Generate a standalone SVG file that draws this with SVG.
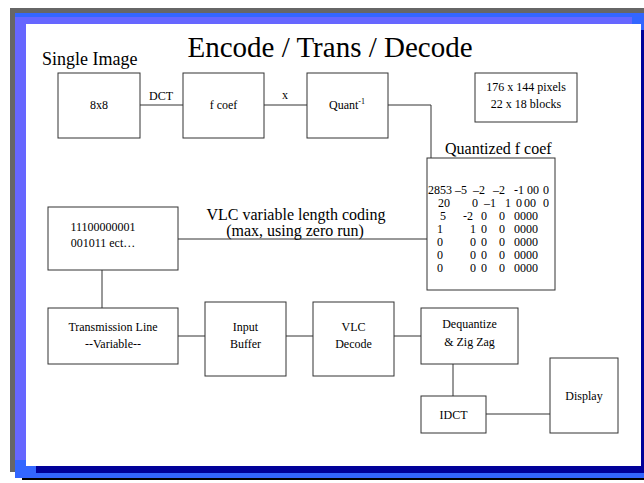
<svg xmlns="http://www.w3.org/2000/svg" width="644" height="483" viewBox="0 0 644 483">
<style>
.box{fill:#fff;stroke:#333;stroke-width:1}
.ln{fill:none;stroke:#333;stroke-width:1}
.t12{font-size:12px;text-anchor:middle}
.lbl{font-size:16px}
.mx{font-size:12px}
</style>
<rect width="644" height="483" fill="#fff"/>
<g id="frame">
<rect x="10" y="8" width="634" height="464" fill="#666666"/>
<rect x="15" y="13" width="629" height="465" fill="#3366FF"/>
<rect x="22" y="478" width="622" height="2" fill="#000"/>
<rect x="15" y="17" width="11" height="443" fill="#6666FF"/>
<rect x="15" y="17" width="617" height="7" fill="#6666FF"/>
<rect x="641" y="30" width="3" height="443" fill="#000099"/>
<rect x="36" y="466" width="608" height="7" fill="#000099"/>
<rect x="26" y="24" width="615" height="442" fill="#fff"/>
</g>
<g font-family="Liberation Serif, Times New Roman, DejaVu Serif, serif" fill="#000">
<text x="330" y="57" font-size="29" text-anchor="middle">Encode / Trans / Decode</text>
<text x="42" y="65" font-size="18">Single Image</text>
<g id="connectors">
<path class="ln" d="M140 105H183M264 105H307M388 105H431V158"/>
<path class="ln" d="M178 239H427"/>
<path class="ln" d="M102 270V308"/>
<path class="ln" d="M178 336H205M286 336H313M394 336H421"/>
<path class="ln" d="M453 364V396"/>
<path class="ln" d="M486 414H550"/>
<text x="161" y="100" class="t12">DCT</text>
<text x="285" y="99" class="t12">x</text>
<text x="296" y="220" class="lbl" text-anchor="middle">VLC variable length coding</text>
<text x="295" y="236" class="lbl" text-anchor="middle">(max, using zero run)</text>
</g>
<g id="n8x8"><rect class="box" x="58" y="73" width="82" height="65"/><text x="99" y="109" class="t12">8x8</text></g>
<g id="nfcoef"><rect class="box" x="183" y="73" width="81" height="65"/><text x="223.5" y="109" class="t12">f coef</text></g>
<g id="nquant"><rect class="box" x="307" y="73" width="81" height="65"/><text x="347" y="109" class="t12">Quant<tspan dy="-5" font-size="8">-1</tspan></text></g>
<g id="ninfo"><rect class="box" x="475" y="73" width="102" height="49"/><text x="526" y="91" class="t12">176 x 144 pixels</text><text x="526" y="108" class="t12">22 x 18 blocks</text></g>
<g id="nmatrix">
<text x="445" y="154" class="lbl">Quantized f coef</text>
<rect class="box" x="427" y="158" width="128" height="132"/>
<g class="mx">
<text y="194"><tspan x="428">2853</tspan><tspan x="455">–5</tspan><tspan x="473">–2</tspan><tspan x="493">–2</tspan><tspan x="514">-1</tspan><tspan x="527">00</tspan><tspan x="543">0</tspan></text>
<text y="207"><tspan x="438">20</tspan><tspan x="472">0</tspan><tspan x="484">–1</tspan><tspan x="505">1</tspan><tspan x="516">0</tspan><tspan x="524">00</tspan><tspan x="543">0</tspan></text>
<text y="220"><tspan x="440">5</tspan><tspan x="463">-2</tspan><tspan x="481">0</tspan><tspan x="499">0</tspan><tspan x="514">0000</tspan></text>
<text y="233"><tspan x="437">1</tspan><tspan x="470">1</tspan><tspan x="481">0</tspan><tspan x="499">0</tspan><tspan x="514">0000</tspan></text>
<text y="246"><tspan x="437">0</tspan><tspan x="470">0</tspan><tspan x="481">0</tspan><tspan x="499">0</tspan><tspan x="514">0000</tspan></text>
<text y="259"><tspan x="437">0</tspan><tspan x="470">0</tspan><tspan x="481">0</tspan><tspan x="499">0</tspan><tspan x="514">0000</tspan></text>
<text y="272"><tspan x="437">0</tspan><tspan x="470">0</tspan><tspan x="481">0</tspan><tspan x="499">0</tspan><tspan x="514">0000</tspan></text>
</g>
</g>
<g id="nbits"><rect class="box" x="48" y="207" width="130" height="63"/><text x="103" y="231" class="t12">11100000001</text><text x="103" y="247" class="t12">001011 ect…</text></g>
<g id="ntrans"><rect class="box" x="48" y="308" width="130" height="56"/><text x="113" y="331" class="t12">Transmission Line</text><text x="113" y="348" class="t12">--Variable--</text></g>
<g id="nbuffer"><rect class="box" x="205" y="302" width="81" height="74"/><text x="245.5" y="331" class="t12">Input</text><text x="245.5" y="348" class="t12">Buffer</text></g>
<g id="nvlcd"><rect class="box" x="313" y="302" width="81" height="74"/><text x="353.5" y="331" class="t12">VLC</text><text x="353.5" y="348" class="t12">Decode</text></g>
<g id="ndeq"><rect class="box" x="421" y="308" width="97" height="56"/><text x="469.5" y="328" class="t12">Dequantize</text><text x="469.5" y="346" class="t12">&amp; Zig Zag</text></g>
<g id="nidct"><rect class="box" x="421" y="396" width="65" height="37"/><text x="453.5" y="419" class="t12">IDCT</text></g>
<g id="ndisplay"><rect class="box" x="550" y="358" width="68" height="75"/><text x="584" y="400" class="t12">Display</text></g>
</g>
</svg>
